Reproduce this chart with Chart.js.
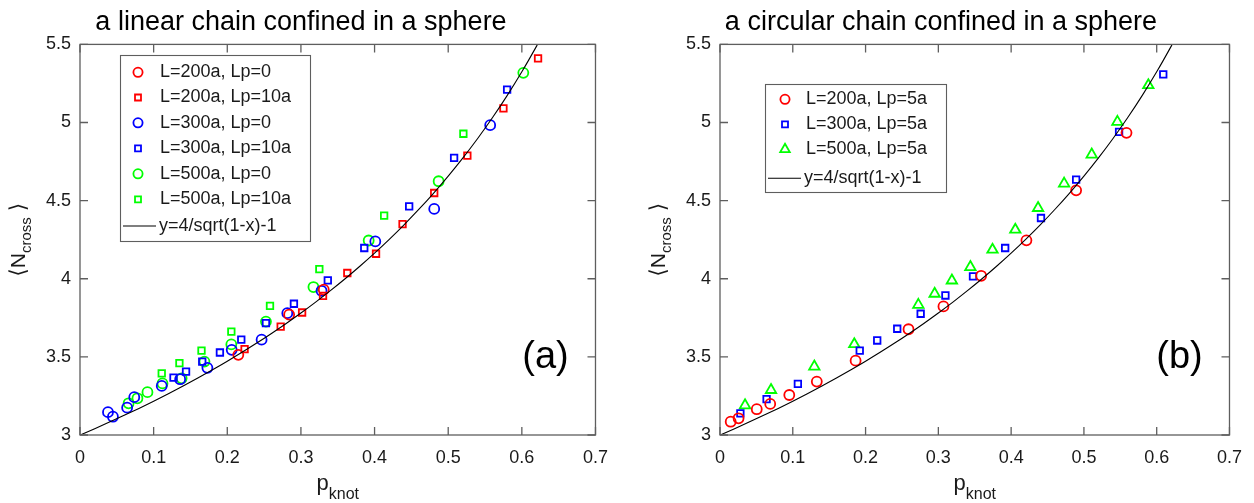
<!DOCTYPE html>
<html><head><meta charset="utf-8">
<script src="https://cdn.jsdelivr.net/npm/chart.js@4.4.1/dist/chart.umd.min.js"></script>
<style>
html,body{margin:0;padding:0;background:#fff;width:1254px;height:503px;overflow:hidden;}
#ca{position:absolute;left:0;top:0;}
#cb{position:absolute;left:640px;top:0;}
</style></head><body>
<canvas id="ca" width="620" height="503"></canvas>
<canvas id="cb" width="614" height="503"></canvas>
<script>
// ---- tick labels / text ----
const xTicks = [0, 0.1, 0.2, 0.3, 0.4, 0.5, 0.6, 0.7];
const yTicks = [3, 3.5, 4, 4.5, 5, 5.5];
const titleA = 'a linear chain confined in a sphere';
const titleB = 'a circular chain confined in a sphere';
const xTitle = ['p', 'knot'];
const yTitle = ['N', 'cross'];
const panelTags = ['(a)', '(b)'];

// ---- panel (a) series ----
const a200Lp0X  = [0.215, 0.284, 0.331];
const a200Lp0Y  = [3.513, 3.77, 3.93];
const a200Lp10X = [0.2235, 0.2725, 0.3016, 0.330, 0.363, 0.402, 0.438, 0.481, 0.526, 0.575, 0.622];
const a200Lp10Y = [3.55, 3.694, 3.784, 3.89, 4.037, 4.16, 4.35, 4.549, 4.788, 5.09, 5.41];
const a300Lp0X  = [0.038, 0.0447, 0.064, 0.0737, 0.111, 0.136, 0.173, 0.206, 0.2466, 0.2815, 0.328, 0.401, 0.481, 0.557];
const a300Lp0Y  = [3.146, 3.117, 3.175, 3.242, 3.314, 3.357, 3.43, 3.545, 3.61, 3.78, 3.923, 4.239, 4.447, 4.983];
const a300Lp10X = [0.127, 0.144, 0.166, 0.190, 0.219, 0.2525, 0.2905, 0.3365, 0.386, 0.447, 0.508, 0.58];
const a300Lp10Y = [3.367, 3.406, 3.47, 3.528, 3.61, 3.716, 3.84, 3.99, 4.197, 4.463, 4.774, 5.21];
const a500Lp0X  = [0.066, 0.078, 0.0916, 0.112, 0.138, 0.169, 0.2055, 0.2525, 0.317, 0.392, 0.487, 0.602];
const a500Lp0Y  = [3.203, 3.235, 3.274, 3.33, 3.363, 3.47, 3.58, 3.726, 3.947, 4.245, 4.624, 5.318];
const a500Lp10X = [0.111, 0.135, 0.165, 0.2055, 0.258, 0.325, 0.413, 0.5206];
const a500Lp10Y = [3.395, 3.46, 3.54, 3.662, 3.827, 4.062, 4.404, 4.928];

// ---- panel (b) series ----
const b200X = [0.0147, 0.0255, 0.0505, 0.069, 0.0952, 0.133, 0.1863, 0.259, 0.307, 0.3588, 0.421, 0.4893, 0.5585];
const b200Y = [3.085, 3.107, 3.165, 3.199, 3.256, 3.342, 3.476, 3.677, 3.823, 4.019, 4.246, 4.566, 4.934];
const b300X = [0.028, 0.064, 0.107, 0.192, 0.216, 0.2435, 0.2757, 0.3097, 0.3476, 0.3918, 0.441, 0.4893, 0.5483, 0.609];
const b300Y = [3.139, 3.229, 3.327, 3.54, 3.605, 3.68, 3.776, 3.893, 4.015, 4.197, 4.389, 4.635, 4.94, 5.308];
const b500X = [0.0344, 0.0701, 0.1296, 0.1845, 0.2725, 0.2949, 0.3186, 0.344, 0.3744, 0.4057, 0.437, 0.4728, 0.5107, 0.546, 0.5885];
const b500Y = [3.19, 3.288, 3.438, 3.581, 3.833, 3.904, 3.989, 4.075, 4.186, 4.314, 4.453, 4.609, 4.795, 5.004, 5.239];

// ---- reference curve y=4/sqrt(1-x)-1 ----
const curveX = [0, 0.02, 0.04, 0.06, 0.08, 0.10, 0.12, 0.14, 0.16, 0.18, 0.20, 0.22, 0.24, 0.26, 0.28, 0.30, 0.32, 0.34, 0.36, 0.38, 0.40, 0.42, 0.44, 0.46, 0.48, 0.50, 0.52, 0.54, 0.56, 0.58, 0.60, 0.62, 0.625];
const curveY = [3.0, 3.0406, 3.0825, 3.1257, 3.1703, 3.2164, 3.2640, 3.3133, 3.3644, 3.4173, 3.4721, 3.5291, 3.5883, 3.6499, 3.7140, 3.7809, 3.8507, 3.9237, 4.0, 4.0800, 4.1640, 4.2523, 4.3452, 4.4433, 4.5470, 4.6569, 4.7735, 4.8977, 5.0302, 5.1721, 5.3246, 5.4889, 5.5320];
const curveLabel = 'y=4/sqrt(1-x)-1';

const FONT = "'Liberation Sans', 'DejaVu Sans', Arial, sans-serif";
const RED = '#ff0000', BLUE = '#0000ff', GREEN = '#00ff00';
const AXIS = '#5e5e5e', TEXT = '#1a1a1a';

function pts(xs, ys) { return xs.map((x, i) => ({ x: x, y: ys[i] })); }
function scat(label, xs, ys, color, style, r) {
  return { label: label, data: pts(xs, ys), borderColor: color, backgroundColor: 'rgba(0,0,0,0)',
    pointStyle: style, pointRadius: r, pointBorderWidth: 1.8, borderWidth: 1.8, showLine: false, order: 1 };
}
function curveDs() {
  return { type: 'line', label: curveLabel, data: pts(curveX, curveY), borderColor: '#000', borderWidth: 1.1,
    pointRadius: 0, showLine: true, fill: false, cubicInterpolationMode: 'monotone', order: 0 };
}

const framePlugin = {
  id: 'frame',
  afterDatasetsDraw(chart, args, o) {
    const ctx = chart.ctx;
    const { left, right, top, bottom } = chart.chartArea;
    const xs = chart.scales.x, ys = chart.scales.y;
    ctx.save();
    // box + inward ticks
    ctx.strokeStyle = AXIS; ctx.lineWidth = 1.3;
    ctx.strokeRect(left, top, right - left, bottom - top);
    ctx.beginPath();
    const tl = 8;
    xTicks.forEach(v => { const p = xs.getPixelForValue(v);
      ctx.moveTo(p, bottom); ctx.lineTo(p, bottom - tl); ctx.moveTo(p, top); ctx.lineTo(p, top + tl); });
    yTicks.forEach(v => { const p = ys.getPixelForValue(v);
      ctx.moveTo(left, p); ctx.lineTo(left + tl, p); ctx.moveTo(right, p); ctx.lineTo(right - tl, p); });
    ctx.stroke();
    // legend
    const L = o.legend;
    ctx.fillStyle = '#fff';
    ctx.fillRect(L.box[0], L.box[1], L.box[2] - L.box[0], L.box[3] - L.box[1]);
    ctx.strokeStyle = AXIS; ctx.lineWidth = 1.1;
    ctx.strokeRect(L.box[0] + 0.5, L.box[1] + 0.5, L.box[2] - L.box[0], L.box[3] - L.box[1]);
    ctx.font = '18px ' + FONT; ctx.textBaseline = 'middle'; ctx.textAlign = 'left';
    chart.data.datasets.forEach((d, i) => {
      const yy = L.rows[i];
      if (d.showLine) {
        ctx.strokeStyle = '#000'; ctx.lineWidth = 1.1;
        ctx.beginPath(); ctx.moveTo(L.line[0], yy); ctx.lineTo(L.line[1], yy); ctx.stroke();
        ctx.fillStyle = TEXT; ctx.fillText(d.label, L.line[1] + 3, yy);
      } else {
        ctx.strokeStyle = d.borderColor; ctx.fillStyle = 'rgba(0,0,0,0)'; ctx.lineWidth = 1.8;
        Chart.helpers.drawPoint(ctx, { pointStyle: d.pointStyle, radius: d.pointRadius * 0.92, borderWidth: 1.8, rotation: 0 }, L.markerX, yy);
        ctx.fillStyle = TEXT; ctx.fillText(d.label, L.textX, yy);
      }
    });
    ctx.restore();
  },
  afterDraw(chart, args, o) {
    const ctx = chart.ctx;
    const { left, right, top, bottom } = chart.chartArea;
    ctx.save();
    ctx.fillStyle = '#000';
    // panel tag
    ctx.font = '38px ' + FONT; ctx.textAlign = 'center'; ctx.textBaseline = 'middle';
    ctx.fillText(o.tag, right - 50, bottom - 77);
    // x title with subscript
    ctx.fillStyle = TEXT; ctx.textAlign = 'left'; ctx.textBaseline = 'alphabetic';
    ctx.font = '22px ' + FONT; const w1 = ctx.measureText(xTitle[0]).width;
    ctx.font = '16px ' + FONT; const w2 = ctx.measureText(xTitle[1]).width;
    const cx = (left + right) / 2, x0 = cx - (w1 + w2) / 2;
    ctx.font = '22px ' + FONT; ctx.fillText(xTitle[0], x0, bottom + 55);
    ctx.font = '16px ' + FONT; ctx.fillText(xTitle[1], x0 + w1, bottom + 64);
    // y title with subscript, rotated
    ctx.translate(left - 55, (top + bottom) / 2);
    ctx.rotate(-Math.PI / 2);
    const parts = [['\u27E8', 22, 0], ['N', 21, 0], [yTitle[1], 15, 6], [' \u27E9', 22, 0]];
    let tot = 0; const ws = parts.map(p => { ctx.font = p[1] + 'px ' + FONT; const w = ctx.measureText(p[0]).width; tot += w; return w; });
    let xx = -tot / 2;
    parts.forEach((p, i) => { ctx.font = p[1] + 'px ' + FONT; ctx.fillText(p[0], xx, p[2]); xx += ws[i]; });
    ctx.restore();
  }
};

function makeChart(id, title, datasets, frameOpts, padRight) {
  return new Chart(document.getElementById(id), {
    type: 'scatter',
    data: { datasets: datasets },
    options: {
      responsive: false, animation: false, events: [], devicePixelRatio: 1,
      layout: { padding: { left: 0, right: padRight, top: 0, bottom: 0 } },
      plugins: {
        legend: { display: false }, tooltip: { enabled: false },
        title: { display: true, text: title, color: '#000', font: { family: FONT, size: 27, weight: 'normal' }, padding: { top: 6, bottom: 6 } },
        frame: frameOpts
      },
      scales: {
        x: { type: 'linear', min: 0, max: 0.7,
          afterBuildTicks: s => { s.ticks = xTicks.map(v => ({ value: v })); },
          afterFit: s => { s.height = 68; },
          ticks: { color: TEXT, font: { family: FONT, size: 18 }, padding: 12, maxRotation: 0, autoSkip: false, callback: v => String(v) },
          grid: { display: false, drawTicks: false }, border: { display: false } },
        y: { type: 'linear', min: 3, max: 5.5,
          afterBuildTicks: s => { s.ticks = yTicks.map(v => ({ value: v })); },
          afterFit: s => { s.width = 80; },
          ticks: { color: TEXT, font: { family: FONT, size: 18 }, padding: 9, autoSkip: false, callback: v => String(v) },
          grid: { display: false, drawTicks: false }, border: { display: false } }
      }
    },
    plugins: [framePlugin]
  });
}

makeChart('ca', titleA, [
  scat('L=200a, Lp=0', a200Lp0X, a200Lp0Y, RED, 'circle', 5),
  scat('L=200a, Lp=10a', a200Lp10X, a200Lp10Y, RED, 'rect', 4.6),
  scat('L=300a, Lp=0', a300Lp0X, a300Lp0Y, BLUE, 'circle', 5),
  scat('L=300a, Lp=10a', a300Lp10X, a300Lp10Y, BLUE, 'rect', 4.6),
  scat('L=500a, Lp=0', a500Lp0X, a500Lp0Y, GREEN, 'circle', 5),
  scat('L=500a, Lp=10a', a500Lp10X, a500Lp10Y, GREEN, 'rect', 4.6),
  curveDs()
], { tag: panelTags[0], legend: { box: [120, 55, 310, 241], rows: [72.3, 97.5, 122.8, 148.3, 173.8, 199.3, 226], markerX: 138, textX: 160, line: [123, 156] } }, 18);

makeChart('cb', titleB, [
  scat('L=200a, Lp=5a', b200X, b200Y, RED, 'circle', 5),
  scat('L=300a, Lp=5a', b300X, b300Y, BLUE, 'rect', 4.6),
  scat('L=500a, Lp=5a', b500X, b500Y, GREEN, 'triangle', 6),
  curveDs()
], { tag: panelTags[1], legend: { box: [125, 84, 306, 192], rows: [99.3, 124.3, 149.3, 178.3], markerX: 145, textX: 166, line: [128, 161] } }, 12);
</script>
</body></html>
